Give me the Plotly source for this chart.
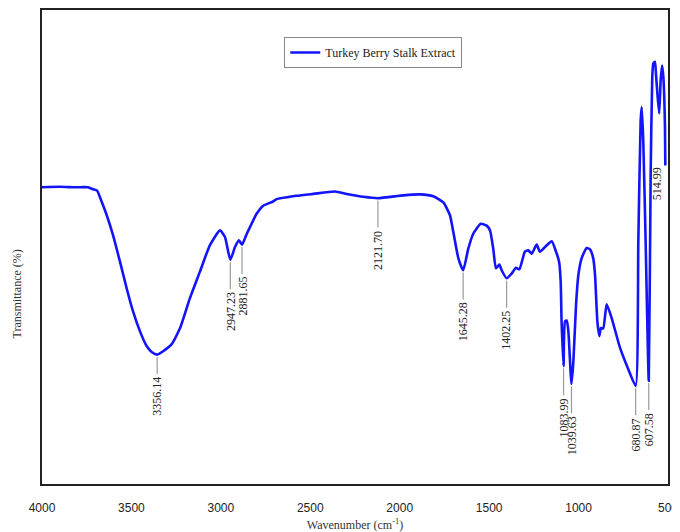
import plotly.graph_objects as go

# Spectrum (wavenumber, transmittance in arbitrary % units)
wavenumber = [4000, 3899, 3815, 3743, 3715, 3692, 3676, 3638, 3603, 3564, 3526, 3491, 3452, 3415,
              3385, 3356.14, 3323, 3275, 3228, 3173, 3117, 3061, 3005, 2977, 2947.23, 2921, 2899,
              2881.65, 2855, 2837, 2800, 2763, 2708, 2688, 2576, 2483, 2362, 2296, 2204,
              2121.70, 1980, 1887, 1812, 1756, 1719, 1700, 1672, 1645.28, 1617, 1589, 1547,
              1514, 1495, 1477, 1462, 1443, 1430, 1402.25, 1374, 1350, 1331, 1300, 1281, 1262,
              1234, 1216, 1182, 1150, 1126, 1109, 1100, 1095, 1083.99, 1076, 1066, 1057,
              1039.63, 1029, 1014, 1001, 983, 955, 936, 918, 908, 895, 884, 875, 862, 843,
              815, 768, 722, 680.87, 666, 653, 647, 638, 625, 607.58, 597, 588, 582, 573,
              567, 558, 549, 541, 533, 526, 517, 514.99]
transmittance = [62.6, 62.7, 62.6, 62.6, 62.2, 61.9, 60.5, 56.7, 52.5, 46.9, 41.2, 36.4, 32.2, 29.1,
                 27.8, 27.3, 28.0, 29.5, 32.9, 39.2, 44.8, 50.4, 53.5, 52.1, 47.3, 50.0, 51.4,
                 50.5, 52.8, 54.2, 57.0, 58.7, 59.6, 60.1, 60.8, 61.2, 61.7, 61.2, 60.6,
                 60.3, 60.9, 61.1, 60.7, 59.4, 56.7, 53.1, 47.6, 45.1, 49.6, 52.8, 54.9,
                 54.5, 53.5, 49.6, 45.5, 46.3, 45.1, 43.4, 44.4, 45.6, 45.3, 49.0, 49.3, 48.6,
                 50.5, 49.0, 50.2, 51.2, 49.0, 46.9, 42.7, 34.3, 24.9, 34.3, 34.5, 32.2,
                 21.1, 25.9, 37.9, 44.1, 47.6, 49.8, 49.5, 47.6, 44.1, 34.3, 31.2, 32.9, 32.8, 37.9,
                 35.0, 28.7, 24.2, 20.7, 51.0, 76.5, 79.5, 72.0, 51.0, 21.8, 65.1, 85.9, 88.7, 89.1,
                 86.3, 81.7, 78.2, 85.2, 88.3, 85.9, 75.5, 67.2]

peak_positions = [3356.14, 2947.23, 2881.65, 2121.70, 1645.28, 1402.25,
                  1083.99, 1039.63, 680.87, 607.58]
peak_labels = ["3356.14", "2947.23", "2881.65", "2121.70", "1645.28", "1402.25",
               "1083.99", "1039.63", "680.87", "607.58"]
end_peak = 514.99
end_label = "514.99"

series_name = "Turkey Berry Stalk Extract"

PLOT_H = 474
PX = PLOT_H / 100.0  # pixels per y unit
line_len_px = {"3356.14": 17}

fig = go.Figure()
fig.add_trace(go.Scatter(
    x=wavenumber, y=transmittance, mode="lines", name=series_name,
    line=dict(color="rgb(20,20,250)", width=2.6, shape="spline", smoothing=0.5),
))

lookup = dict(zip(wavenumber, transmittance))
shapes = []
annotations = []
for pos, lab in zip(peak_positions, peak_labels):
    t = lookup[pos]
    L = line_len_px.get(lab, 27) / PX
    y0 = t - 0.5
    y1 = t - 0.5 - L
    shapes.append(dict(type="line", xref="x", yref="y", x0=pos, x1=pos, y0=y0, y1=y1,
                       line=dict(color="#9a9a9a", width=1.2)))
    annotations.append(dict(x=pos, y=y1, xref="x", yref="y", text=lab, showarrow=False,
                            textangle=-90, xanchor="center", yanchor="top", yshift=-1,
                            font=dict(family="Liberation Serif", size=12, color="#222")))

annotations.append(dict(x=end_peak, y=lookup[end_peak], xref="x", yref="y", text=end_label,
                        showarrow=False, textangle=-90, xanchor="right", yanchor="top",
                        xshift=1,
                        font=dict(family="Liberation Serif", size=12, color="#222")))

annotations.append(dict(x=0, y=0.40, xref="paper", yref="paper", text="Transmittance (%)",
                        showarrow=False, textangle=-90, xanchor="center", yanchor="middle",
                        xshift=-25,
                        font=dict(family="Liberation Serif", size=12, color="#333")))

# The page body has an 8px margin, so the figure is sized to fit the window from there.
fig.update_layout(
    width=672, height=524,
    margin=dict(l=34, r=12, t=2, b=48, autoexpand=False),
    paper_bgcolor="white", plot_bgcolor="white",
    shapes=shapes, annotations=annotations,
    showlegend=True,
    legend=dict(x=0.387, y=0.943, xanchor="left", yanchor="top",
                bordercolor="#888", borderwidth=1, bgcolor="white",
                font=dict(family="Liberation Serif", size=12, color="#222"),
                itemwidth=30, tracegroupgap=0),
    xaxis=dict(range=[4000, 500], tickvals=[4000, 3500, 3000, 2500, 2000, 1500, 1000, 500],
               ticks="outside", ticklen=12, tickcolor="rgba(0,0,0,0)",
               showgrid=False, zeroline=False,
               showline=True, mirror=True, linecolor="#222", linewidth=1.5,
               tickfont=dict(family="Liberation Sans", size=12, color="#222"),
               title=dict(text="Wavenumber (cm<sup>-1</sup>)", standoff=6,
                          font=dict(family="Liberation Serif", size=12, color="#333"))),
    yaxis=dict(range=[0, 100], showticklabels=False, ticks="", showgrid=False, zeroline=False,
               showline=True, mirror=True, linecolor="#222", linewidth=1.5),
)

fig.write_html("out.html")
